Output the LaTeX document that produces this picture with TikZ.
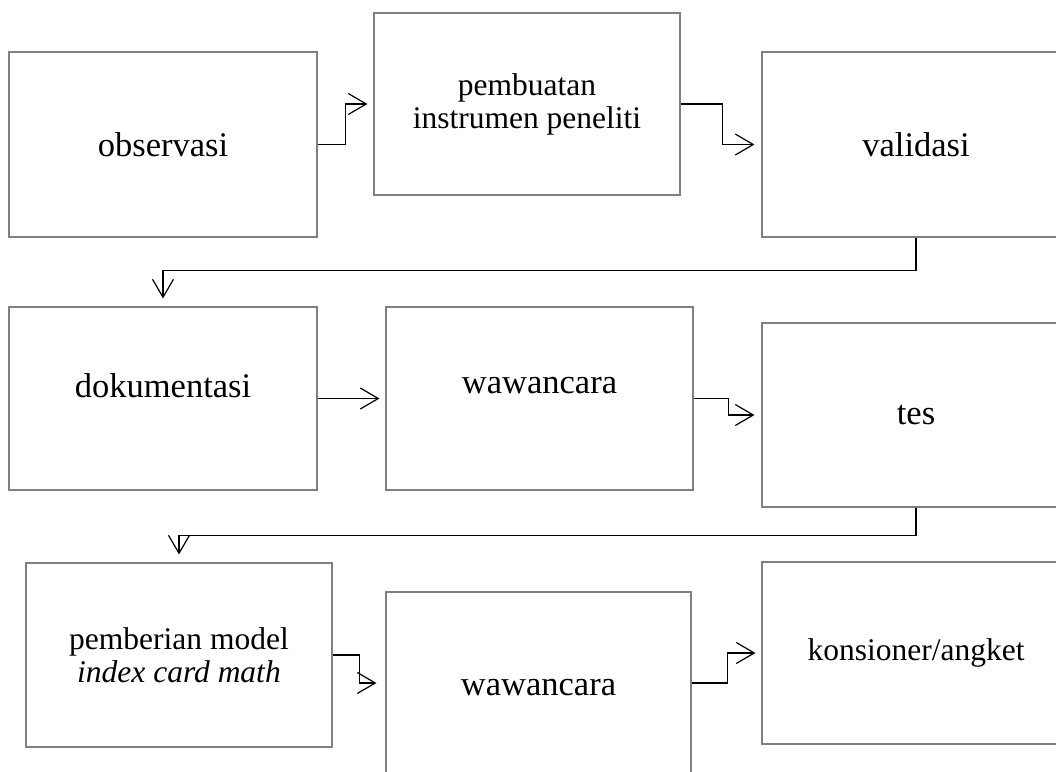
\documentclass[tikz,border=0pt]{standalone}
\usepackage{fontspec}
\setmainfont{Liberation Serif}
\usetikzlibrary{arrows.meta}
\begin{document}
\begin{tikzpicture}[x=1pt,y=-1pt,
  box/.style={draw=black!50,line width=1.1pt,rectangle,inner sep=0pt,
    font=\fontsize{31.5}{33}\selectfont,align=center},
  big/.style={font=\fontsize{34.5}{36}\selectfont},
  conn/.style={draw=black,line width=1.2pt,
    -{Straight Barb[length=18pt,width=21pt,line width=1.2pt]}}]
\useasboundingbox (0,0) rectangle (1056,771);
% row 1
\node[box,big,minimum width=308pt,minimum height=185pt] (obs) at (163,144.5) {observasi};
\node[box,minimum width=306pt,minimum height=182pt] (pemb) at (527,104) {pembuatan\\instrumen peneliti};
\node[box,big,minimum width=308pt,minimum height=185pt] (val) at (916,144.5) {validasi};
% row 2
\node[box,minimum width=308pt,minimum height=183pt,
  label={[box,big,draw=none,yshift=13pt]center:dokumentasi}] (dok) at (163,398.5) {};
\node[box,minimum width=307pt,minimum height=183pt,
  label={[box,big,draw=none,yshift=13pt]center:wawancara}] (waw1) at (539.5,398.5) {};
\node[box,big,minimum width=308pt,minimum height=184pt] (tes) at (916,415) {tes};
% row 3
\node[box,minimum width=306pt,minimum height=184pt] (pemberian) at (179,655) {pemberian model\\\textit{index card math}};
\node[box,minimum width=305pt,minimum height=182pt,
  label={[box,big,draw=none,yshift=-5pt]center:wawancara}] (waw2) at (538.5,683) {};
\node[box,minimum width=308pt,minimum height=182pt] (kons) at (916,653) {konsioner/angket};
% connectors
\draw[conn,shorten >=6pt] (obs.east) -- ++(28,0) |- (pemb.west);
\draw[conn,shorten >=7pt] (pemb.east) -- ++(42,0) |- (val.west);
\draw[conn,shorten >=8pt] (val.south) -- ++(0,33) -| (dok.north);
\draw[conn,shorten >=6pt] (dok.east) -- (waw1.west);
\draw[conn,shorten >=7pt] (waw1.east) -- ++(35,0) |- (tes.west);
\draw[conn,shorten >=8pt] (tes.south) -- ++(0,28) -| (pemberian.north);
\draw[conn,shorten >=9pt] (pemberian.east) -- ++(27,0) |- (waw2.west);
\draw[conn,shorten >=6pt] (waw2.east) -- ++(36,0) |- (kons.west);
\end{tikzpicture}
\end{document}
